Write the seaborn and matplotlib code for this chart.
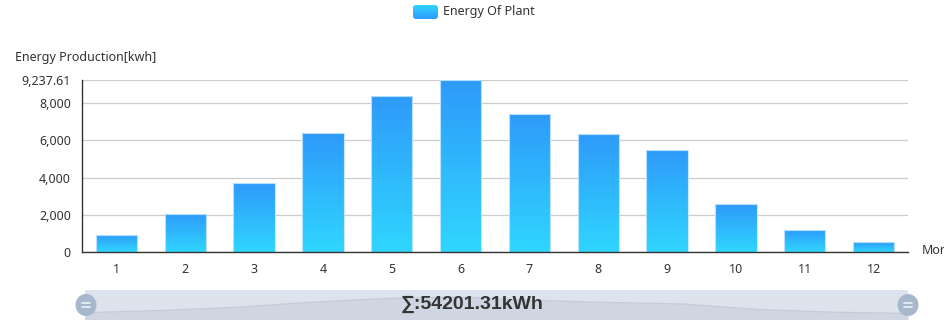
import numpy as np
import pandas as pd
import matplotlib
matplotlib.use("Agg")
import matplotlib.pyplot as plt
import seaborn as sns
from matplotlib.patches import FancyBboxPatch, Ellipse
from matplotlib.ticker import FixedLocator, FuncFormatter
from matplotlib.colors import LinearSegmentedColormap

months = [str(i) for i in range(1, 13)]
energy = [930.52, 2041.18, 3702.45, 6381.27, 8402.66, 9237.61,
          7415.83, 6329.04, 5488.71, 2576.39, 1181.95, 513.70]
y_ticks = [0, 2000, 4000, 6000, 8000]
series_name = "Energy Of Plant"
y_title = "Energy Production[kwh]"
x_title = "Month"

sns.set_style("white")
plt.rcParams['font.family'] = ['Noto Sans', 'DejaVu Sans']

W, H = 945, 320
fig = plt.figure(figsize=(W / 100, H / 100), dpi=100)
ax = fig.add_axes([82 / W, 1 - 252 / H, (908 - 82) / W, (252 - 80) / H])

df = pd.DataFrame({'month': months, 'energy': energy})
sns.barplot(data=df, x='month', y='energy', ax=ax, width=0.6,
            color='#2e9cfa', saturation=1, errorbar=None)

ymax = max(energy)
cmap = LinearSegmentedColormap.from_list('g', ['#30d6fe', '#2e9afa'])
grad = np.linspace(0, 1, 256).reshape(-1, 1)
for p in list(ax.patches):
    x0, y0 = p.get_x(), p.get_y()
    w, h = p.get_width(), p.get_height()
    im = ax.imshow(grad, cmap=cmap, origin='lower',
                   extent=[x0, x0 + w, y0, y0 + h], aspect='auto', zorder=2)
    im.set_clip_path(p)
    p.set_facecolor('none')
    p.set_edgecolor((0.78, 0.90, 1.0, 0.9))
    p.set_linewidth(0.8)
    p.set_zorder(3)

ax.set_xlim(-0.5, 11.5)
ax.set_ylim(0, ymax)
ax.set_aspect('auto')
ax.yaxis.set_major_locator(FixedLocator(y_ticks + [ymax]))
ax.yaxis.set_major_formatter(FuncFormatter(
    lambda v, pos: f"{v:,.0f}" if abs(v - round(v)) < 1e-6 else f"{v:,.2f}"))
ax.set_axisbelow(True)
ax.yaxis.grid(True, color='#cccccc', lw=0.9)
ax.xaxis.grid(False)
for s in ['top', 'right']:
    ax.spines[s].set_visible(False)
for s in ['left', 'bottom']:
    ax.spines[s].set_color('#333333')
    ax.spines[s].set_linewidth(1)
    ax.spines[s].set_zorder(4)
ax.tick_params(axis='both', direction='out', length=5, width=1,
               color='#333333', labelcolor='#333333', labelsize=9, pad=3)
ax.set_xlabel('')
ax.set_ylabel('')

fig.text(15 / W, 1 - 58 / H, y_title, ha='left', va='center',
         fontsize=9, color='#333333')
fig.text(922 / W, 1 - 251 / H, x_title, ha='left', va='center',
         fontsize=9, color='#333333')

# data zoom slider
sax = fig.add_axes([85 / W, 0, (908 - 85) / W, 30 / H])
sax.set_facecolor('#dde3ec')
xs = np.arange(len(energy))
sax.fill_between(xs, energy, -5000, color='#cfd6e1', lw=0)
sax.plot(xs, energy, color='#c3ccd9', lw=1)
sax.set_xlim(0, len(energy) - 1)
sax.set_ylim(-2932, 12940)
sax.set_xticks([])
sax.set_yticks([])
for s in sax.spines.values():
    s.set_visible(False)

# overlay for legend, handles, text
ov = fig.add_axes([0, 0, 1, 1])
ov.set_xlim(0, W)
ov.set_ylim(H, 0)
ov.axis('off')
ov.set_zorder(10)
ov.patch.set_visible(False)

leg = FancyBboxPatch((413, 5), 25, 14, boxstyle='round,pad=0,rounding_size=3',
                     facecolor='none', edgecolor='none')
ov.add_patch(leg)
im = ov.imshow(grad, cmap=cmap, origin='upper', extent=[413, 438, 19, 5],
               aspect='auto')
im.set_clip_path(leg)
ov.set_xlim(0, W)
ov.set_ylim(H, 0)
ov.text(443, 12, series_name, ha='left', va='center', fontsize=9, color='#333333')

for cx in [86, 908]:
    ov.add_patch(Ellipse((cx, 305), 21, 22, facecolor='#a7b7cc', edgecolor='none'))
    for yy in [303, 307]:
        ov.plot([cx - 4, cx + 4], [yy, yy], color='#eef2f7', lw=1.2,
                solid_capstyle='round')

ov.text(472, 304, f"∑:{sum(energy):.2f}kWh", ha='center', va='center',
        fontsize=14, fontweight='bold', color='#333333',
        family=['Liberation Sans', 'DejaVu Sans'])

fig.savefig('out.png', dpi=100)
